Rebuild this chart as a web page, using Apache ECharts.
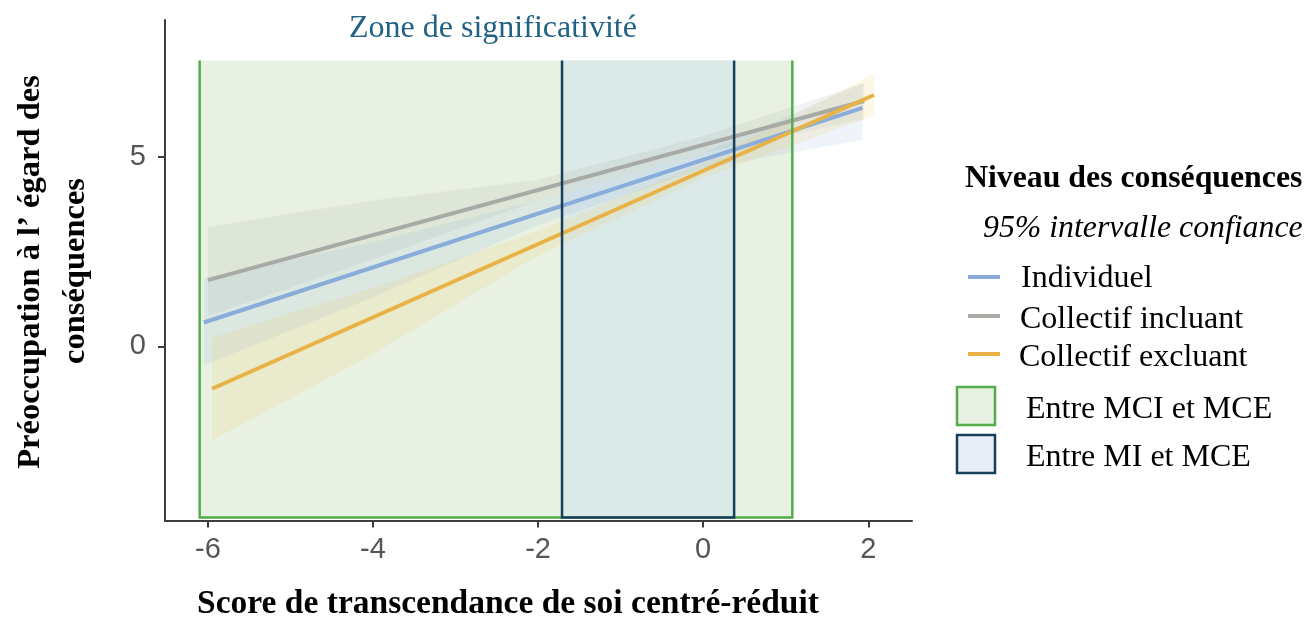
<!DOCTYPE html>
<html>
<head>
<meta charset="utf-8">
<script src="https://cdn.jsdelivr.net/npm/echarts@6/dist/echarts.min.js"></script>
<style>
html,body{margin:0;padding:0;background:#fff;}
#chart{width:1306px;height:617px;}
</style>
</head>
<body>
<div id="chart"></div>
<script>
// ---- Data ----
const xTickValues = [-6, -4, -2, 0, 2];
const yTickValues = [0, 5];

const seriesNames = ['Individuel', 'Collectif incluant', 'Collectif excluant'];
const seriesColors = ['#89acda', '#a8aaa5', '#e9b246'];
const bandColors = ['rgba(130,170,225,0.13)', 'rgba(140,145,140,0.11)', 'rgba(240,200,80,0.14)'];

// regression lines (x, y) endpoints
const indivLine = [[-6.05, 0.63], [1.93, 6.30]];
const inclLine  = [[-6.00, 1.75], [1.95, 6.48]];
const exclLine  = [[-5.95, -1.12], [2.07, 6.64]];

// 95% confidence bands
const indivBandX    = [-6.05, -4, -2, 0, 1.93];
const indivBandLow  = [-0.50, 1.30, 3.20, 4.70, 5.45];
const indivBandHigh = [1.80, 2.75, 3.85, 5.10, 6.95];

const inclBandX    = [-6.00, -4, -2, 0, 1.95];
const inclBandLow  = [0.80, 2.30, 3.85, 5.10, 6.00];
const inclBandHigh = [3.15, 3.85, 4.40, 5.55, 6.95];

const exclBandX    = [-5.95, -4, -2, 0, 2.07];
const exclBandLow  = [-2.48, -0.20, 2.40, 4.45, 6.10];
const exclBandHigh = [0.24, 1.55, 3.05, 4.85, 7.20];

// significance zones [xmin, xmax], vertical extent
const zoneMCI = [-6.10, 1.08];
const zoneMI  = [-1.71, 0.375];
const zoneY   = [-4.52, 7.55];

const zoneNames = ['Entre MCI et MCE', 'Entre MI et MCE'];

// ---- Chart ----
const chart = echarts.init(document.getElementById('chart'), null, {renderer: 'canvas'});
const serif = "'Liberation Serif', 'Times New Roman', serif";
const sans = "'Liberation Sans', Arial, sans-serif";

function bandSeries(xs, lo, hi, color) {
  const data = xs.map((x, i) => [x, lo[i], hi[i]]);
  return {
    type: 'custom', z: 3, silent: true,
    data: data,
    encode: {x: 0, y: [1, 2]},
    renderItem: function (params, api) {
      if (params.dataIndex !== 0) return null;
      const pts = [];
      for (let i = 0; i < data.length; i++) pts.push(api.coord([data[i][0], data[i][2]]));
      for (let i = data.length - 1; i >= 0; i--) pts.push(api.coord([data[i][0], data[i][1]]));
      return {type: 'polygon', shape: {points: pts}, style: {fill: color}};
    }
  };
}

function zoneFill(zone, color, z) {
  return {
    type: 'custom', z: z, silent: true,
    data: [[zone[0], zone[1], zoneY[0], zoneY[1]]],
    encode: {x: [0, 1], y: [2, 3]},
    renderItem: function (params, api) {
      const p0 = api.coord([api.value(0), api.value(3)]);
      const p1 = api.coord([api.value(1), api.value(2)]);
      return {type: 'rect', shape: {x: p0[0], y: p0[1], width: p1[0] - p0[0], height: p1[1] - p0[1]}, style: {fill: color}};
    }
  };
}

function zoneBorder(zone, color, z) {
  return {
    type: 'custom', z: z, silent: true,
    data: [[zone[0], zone[1], zoneY[0], zoneY[1]]],
    encode: {x: [0, 1], y: [2, 3]},
    renderItem: function (params, api) {
      const a = api.coord([api.value(0), api.value(3)]);
      const b = api.coord([api.value(0), api.value(2)]);
      const c = api.coord([api.value(1), api.value(2)]);
      const d = api.coord([api.value(1), api.value(3)]);
      return {type: 'polyline', shape: {points: [a, b, c, d]}, style: {stroke: color, lineWidth: 2.5, fill: null}};
    }
  };
}

function lineSeries(name, data, color) {
  return {
    name: name, type: 'line', z: 5, data: data, showSymbol: false, silent: true,
    lineStyle: {color: color, width: 4}, itemStyle: {color: color}
  };
}

const option = {
  animation: false,
  backgroundColor: '#ffffff',
  grid: {left: 165, right: 394, top: 20, bottom: 96.5, containLabel: false},
  xAxis: {
    type: 'value', min: -6.52, max: 2.53,
    axisLine: {show: true, onZero: false, lineStyle: {color: '#3c3c3c', width: 2}},
    axisTick: {show: true, customValues: xTickValues, length: 7, lineStyle: {color: '#3c3c3c', width: 2}},
    axisLabel: {customValues: xTickValues, fontSize: 29, color: '#555555', margin: 15, fontFamily: sans},
    splitLine: {show: false}
  },
  yAxis: {
    type: 'value', min: -4.60, max: 8.62,
    axisLine: {show: true, onZero: false, lineStyle: {color: '#3c3c3c', width: 2}},
    axisTick: {show: true, customValues: yTickValues, length: 7, lineStyle: {color: '#3c3c3c', width: 2}},
    axisLabel: {customValues: yTickValues, fontSize: 29, color: '#555555', margin: 19, fontFamily: sans},
    splitLine: {show: false}
  },
  series: [
    zoneFill(zoneMCI, '#e9f1e2', 1),
    zoneFill(zoneMI, '#dbe9e8', 2),
    bandSeries(inclBandX, inclBandLow, inclBandHigh, bandColors[1]),
    bandSeries(indivBandX, indivBandLow, indivBandHigh, bandColors[0]),
    bandSeries(exclBandX, exclBandLow, exclBandHigh, bandColors[2]),
    lineSeries(seriesNames[1], inclLine, seriesColors[1]),
    lineSeries(seriesNames[0], indivLine, seriesColors[0]),
    lineSeries(seriesNames[2], exclLine, seriesColors[2]),
    zoneBorder(zoneMCI, '#52ad4a', 8),
    zoneBorder(zoneMI, '#173f5c', 9)
  ],
  graphic: [
    {type: 'text', x: 493, y: 29, style: {text: 'Zone de significativité', font: '32px ' + serif, fill: '#1f6283', align: 'center', verticalAlign: 'middle'}},
    {type: 'text', x: 508, y: 604, style: {text: 'Score de transcendance de soi centré-réduit', font: 'bold 33.5px ' + serif, fill: '#000', align: 'center', verticalAlign: 'middle'}},
    {type: 'text', x: 31, y: 272, rotation: Math.PI / 2, style: {text: 'Préoccupation à l’ égard des', font: 'bold 32.5px ' + serif, fill: '#000', align: 'center', verticalAlign: 'middle'}},
    {type: 'text', x: 76, y: 271, rotation: Math.PI / 2, style: {text: 'conséquences', font: 'bold 32.5px ' + serif, fill: '#000', align: 'center', verticalAlign: 'middle'}},
    // legend
    {type: 'text', x: 965, y: 179, style: {text: 'Niveau des conséquences', font: 'bold 31.8px ' + serif, fill: '#000', align: 'left', verticalAlign: 'middle'}},
    {type: 'text', x: 983, y: 229, style: {text: '95% intervalle confiance', font: 'italic 31.8px ' + serif, fill: '#000', align: 'left', verticalAlign: 'middle'}},
    {type: 'line', shape: {x1: 968, y1: 277, x2: 1000, y2: 277}, style: {stroke: seriesColors[0], lineWidth: 4}},
    {type: 'line', shape: {x1: 968, y1: 316, x2: 1000, y2: 316}, style: {stroke: seriesColors[1], lineWidth: 4}},
    {type: 'line', shape: {x1: 968, y1: 354, x2: 1000, y2: 354}, style: {stroke: seriesColors[2], lineWidth: 4}},
    {type: 'text', x: 1021, y: 279, style: {text: seriesNames[0], font: '32px ' + serif, fill: '#000', align: 'left', verticalAlign: 'middle'}},
    {type: 'text', x: 1020, y: 320, style: {text: seriesNames[1], font: '32px ' + serif, fill: '#000', align: 'left', verticalAlign: 'middle'}},
    {type: 'text', x: 1019, y: 358, style: {text: seriesNames[2], font: '32px ' + serif, fill: '#000', align: 'left', verticalAlign: 'middle'}},
    {type: 'rect', shape: {x: 957, y: 387, width: 38, height: 38}, style: {fill: '#e9f1e2', stroke: '#52ad4a', lineWidth: 2.5}},
    {type: 'rect', shape: {x: 957, y: 435, width: 38, height: 38}, style: {fill: '#e8eef8', stroke: '#173f5c', lineWidth: 2.5}},
    {type: 'text', x: 1026, y: 410, style: {text: zoneNames[0], font: '32px ' + serif, fill: '#000', align: 'left', verticalAlign: 'middle'}},
    {type: 'text', x: 1026, y: 458, style: {text: zoneNames[1], font: '32px ' + serif, fill: '#000', align: 'left', verticalAlign: 'middle'}}
  ]
};
chart.setOption(option);
</script>
</body>
</html>
